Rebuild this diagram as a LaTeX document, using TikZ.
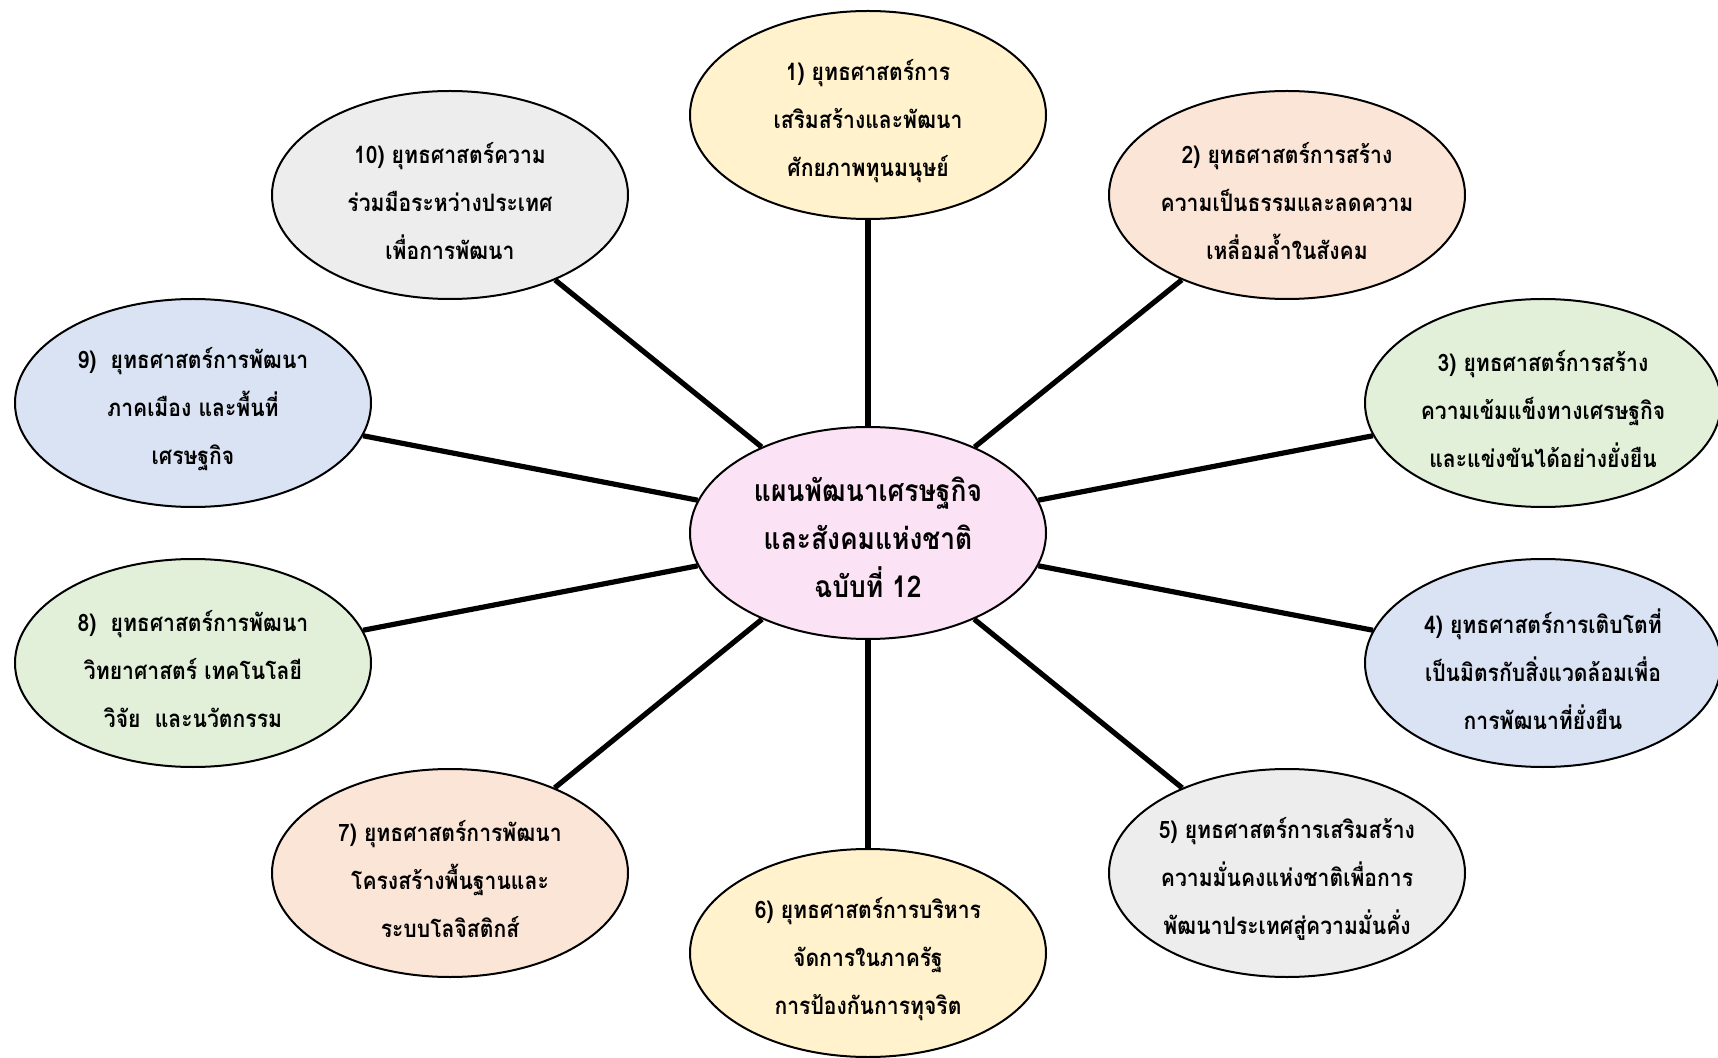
\documentclass[tikz,border=0pt]{standalone}
\usepackage{fontspec}
\newfontfamily\thai[Script=Thai,FakeStretch=0.88]{Loma}
\usetikzlibrary{shapes.geometric}
\definecolor{cyel}{HTML}{FFF2CC}
\definecolor{cpea}{HTML}{FBE5D6}
\definecolor{cgrn}{HTML}{E2F0D9}
\definecolor{cblu}{HTML}{DAE3F3}
\definecolor{cgry}{HTML}{EDEDED}
\definecolor{cpnk}{HTML}{FBE2F5}
\tikzset{
  bub/.style={ellipse, draw=black, line width=1pt, minimum width=178pt, minimum height=104pt, inner sep=0pt},
  txt/.style={align=center, font=\thai\bfseries\fontsize{12pt}{24pt}\selectfont, inner sep=0pt, yshift=-3pt},
  ctxt/.style={align=center, font=\thai\bfseries\fontsize{15pt}{24pt}\selectfont, inner sep=0pt, yshift=-2pt},
  conn/.style={line width=2.6pt, draw=black}
}
\begin{document}
\begin{tikzpicture}[x=0.5pt,y=-0.5pt]
\useasboundingbox (0,0) rectangle (1718,1058);
\node[bub, fill=cpnk, minimum height=106pt, label={[ctxt]center:{แผนพัฒนาเศรษฐกิจ\\และสังคมแห่งชาติ\\ฉบับที่ 12}}] (c) at (868,533) {};
\node[bub, fill=cyel, label={[txt]center:{1) ยุทธศาสตร์การ\\เสริมสร้างและพัฒนา\\ศักยภาพทุนมนุษย์}}] (n1) at (868,115) {};
\node[bub, fill=cpea, label={[txt]center:{2) ยุทธศาสตร์การสร้าง\\ความเป็นธรรมและลดความ\\เหลื่อมล้ำในสังคม}}] (n2) at (1287,195) {};
\node[bub, fill=cgrn, label={[txt]center:{3) ยุทธศาสตร์การสร้าง\\ความเข้มแข็งทางเศรษฐกิจ\\และแข่งขันได้อย่างยั่งยืน}}] (n3) at (1543,403) {};
\node[bub, fill=cblu, label={[txt]center:{4) ยุทธศาสตร์การเติบโตที่\\เป็นมิตรกับสิ่งแวดล้อมเพื่อ\\การพัฒนาที่ยั่งยืน}}] (n4) at (1543,663) {};
\node[bub, fill=cgry, label={[txt]center:{5) ยุทธศาสตร์การเสริมสร้าง\\ความมั่นคงแห่งชาติเพื่อการ\\พัฒนาประเทศสู่ความมั่นคั่ง}}] (n5) at (1287,873) {};
\node[bub, fill=cyel, label={[txt]center:{6) ยุทธศาสตร์การบริหาร\\จัดการในภาครัฐ\\การป้องกันการทุจริต}}] (n6) at (868,953) {};
\node[bub, fill=cpea, label={[txt]center:{7) ยุทธศาสตร์การพัฒนา\\โครงสร้างพื้นฐานและ\\ระบบโลจิสติกส์}}] (n7) at (450,873) {};
\node[bub, fill=cgrn, label={[txt]center:{8)\ \ ยุทธศาสตร์การพัฒนา\\วิทยาศาสตร์ เทคโนโลยี\\วิจัย\ \ และนวัตกรรม}}] (n8) at (193,663) {};
\node[bub, fill=cblu, label={[txt]center:{9)\ \ ยุทธศาสตร์การพัฒนา\\ภาคเมือง และพื้นที่\\เศรษฐกิจ}}] (n9) at (193,403) {};
\node[bub, fill=cgry, label={[txt]center:{10) ยุทธศาสตร์ความ\\ร่วมมือระหว่างประเทศ\\เพื่อการพัฒนา}}] (n10) at (450,195) {};
\foreach \n in {n1,n2,n3,n4,n5,n6,n7,n8,n9,n10} {\draw[conn] (c) -- (\n);}
\end{tikzpicture}
\end{document}
